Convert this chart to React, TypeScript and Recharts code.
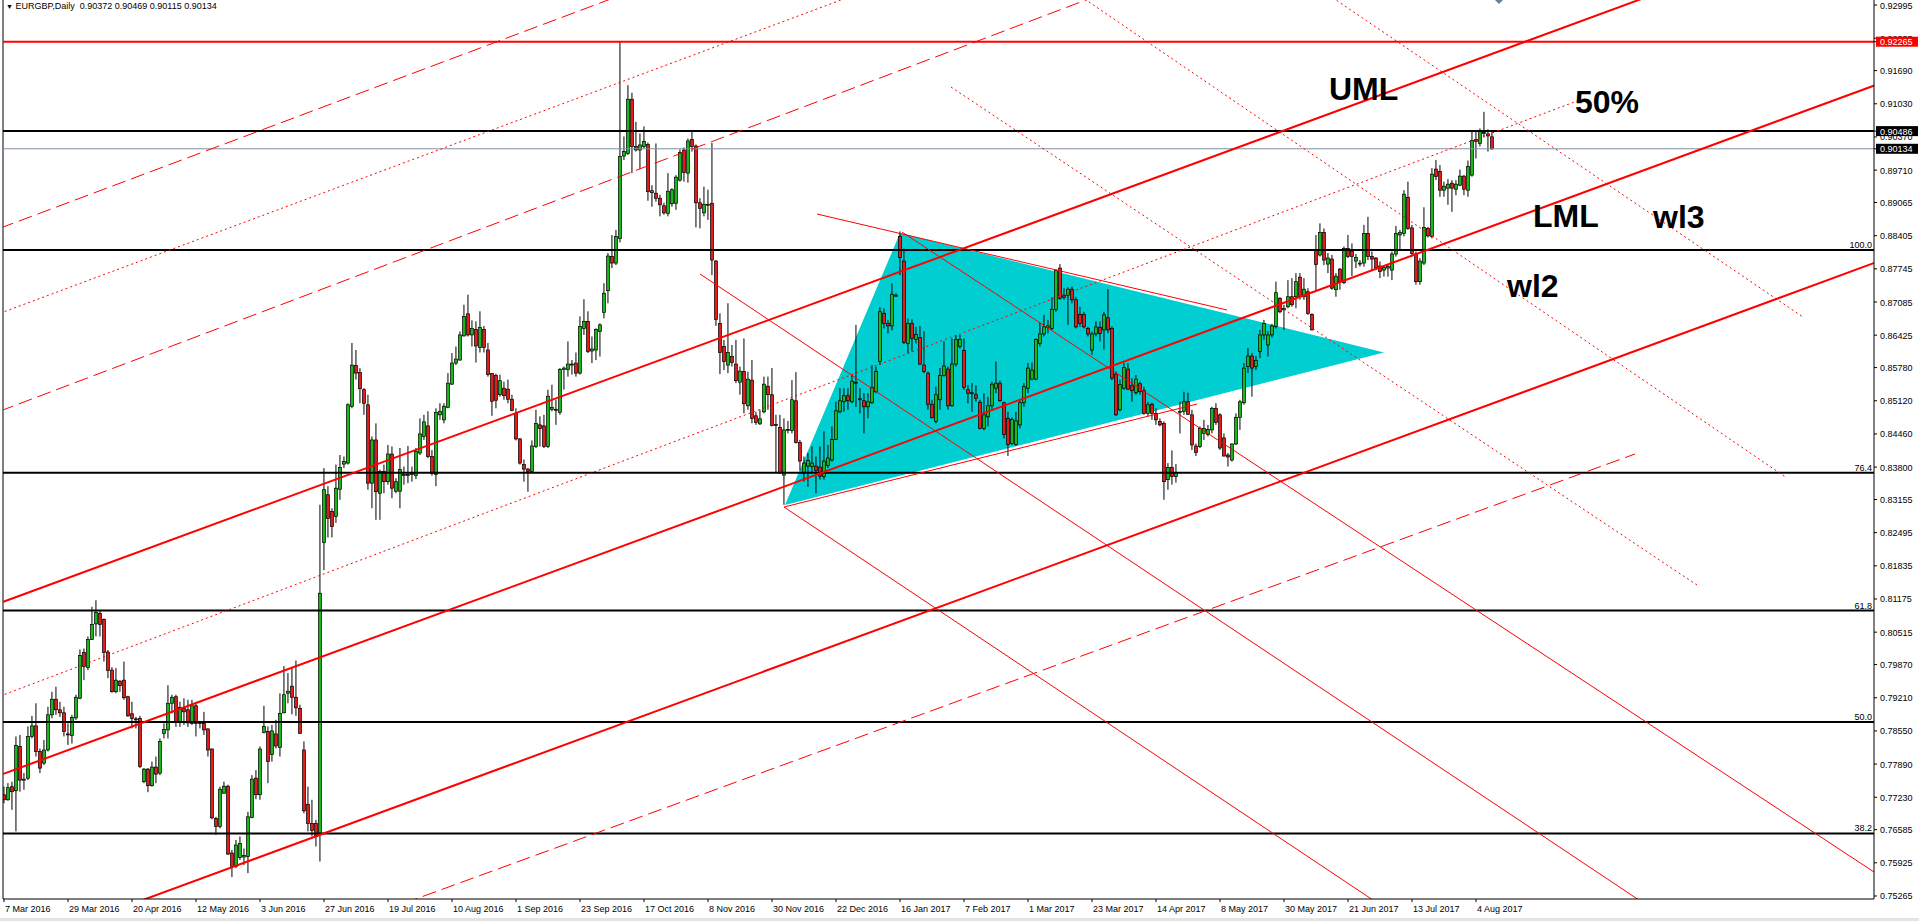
import React from 'react'
import { ComposedChart, Bar, Area, XAxis, YAxis, ReferenceLine, ReferenceDot } from 'recharts'

// EURGBP daily candles, [open, high, low, close]
const spring2016 = [
  [0.7728, 0.7744, 0.7711, 0.7718], [0.7718, 0.7751, 0.7716, 0.7742], [0.7744, 0.7754, 0.7698, 0.7734], [0.7736, 0.7844, 0.7655, 0.7826],
  [0.7824, 0.7847, 0.7734, 0.7757], [0.7757, 0.7771, 0.7738, 0.7759], [0.7761, 0.7864, 0.7757, 0.7844], [0.7844, 0.7885, 0.7840, 0.7865],
  [0.7865, 0.7910, 0.7804, 0.7814], [0.7814, 0.7820, 0.7771, 0.7781], [0.7791, 0.7837, 0.7787, 0.7817], [0.7817, 0.7903, 0.7814, 0.7887],
  [0.7887, 0.7933, 0.7880, 0.7918], [0.7918, 0.7943, 0.7887, 0.7897], [0.7897, 0.7913, 0.7883, 0.7891], [0.7891, 0.7903, 0.7844, 0.7854],
  [0.7849, 0.7870, 0.7827, 0.7848], [0.7846, 0.7887, 0.7830, 0.7882], [0.7881, 0.7927, 0.7877, 0.7922], [0.7920, 0.8017, 0.7918, 0.8005],
  [0.8011, 0.8019, 0.7956, 0.7983], [0.7981, 0.8043, 0.7976, 0.8037], [0.8037, 0.8102, 0.8036, 0.8067], [0.8068, 0.8115, 0.8043, 0.8091],
  [0.8089, 0.8096, 0.8043, 0.8067], [0.8077, 0.8079, 0.7993, 0.8011], [0.8012, 0.8016, 0.7960, 0.7975], [0.7976, 0.7982, 0.7931, 0.7933],
  [0.7933, 0.7980, 0.7930, 0.7956], [0.7954, 0.7956, 0.7933, 0.7945], [0.7956, 0.7993, 0.7917, 0.7921], [0.7923, 0.7925, 0.7883, 0.7885],
  [0.7889, 0.7913, 0.7860, 0.7880], [0.7879, 0.7883, 0.7860, 0.7877], [0.7880, 0.7885, 0.7781, 0.7784], [0.7754, 0.7781, 0.7751, 0.7779],
  [0.7779, 0.7781, 0.7733, 0.7746], [0.7746, 0.7794, 0.7744, 0.7783], [0.7783, 0.7804, 0.7751, 0.7769], [0.7771, 0.7840, 0.7767, 0.7834],
  [0.7850, 0.7870, 0.7840, 0.7858], [0.7857, 0.7946, 0.7840, 0.7910], [0.7910, 0.7927, 0.7890, 0.7922], [0.7923, 0.7927, 0.7863, 0.7873],
  [0.7872, 0.7913, 0.7863, 0.7902], [0.7900, 0.7920, 0.7867, 0.7893], [0.7897, 0.7917, 0.7863, 0.7871], [0.7870, 0.7917, 0.7867, 0.7905],
  [0.7905, 0.7910, 0.7844, 0.7870], [0.7872, 0.7875, 0.7860, 0.7870], [0.7870, 0.7893, 0.7847, 0.7857], [0.7859, 0.7860, 0.7804, 0.7817],
  [0.7819, 0.7820, 0.7679, 0.7682], [0.7681, 0.7684, 0.7648, 0.7665], [0.7665, 0.7744, 0.7661, 0.7739], [0.7731, 0.7754, 0.7730, 0.7745],
  [0.7745, 0.7748, 0.7608, 0.7610], [0.7612, 0.7618, 0.7564, 0.7585], [0.7585, 0.7638, 0.7582, 0.7628], [0.7603, 0.7645, 0.7598, 0.7631],
  [0.7604, 0.7621, 0.7588, 0.7607], [0.7605, 0.7694, 0.7572, 0.7684], [0.7683, 0.7767, 0.7681, 0.7759], [0.7761, 0.7777, 0.7719, 0.7728],
  [0.7728, 0.7824, 0.7718, 0.7819], [0.7852, 0.7905, 0.7850, 0.7864], [0.7854, 0.7864, 0.7751, 0.7794], [0.7808, 0.7867, 0.7794, 0.7855],
  [0.7849, 0.7877, 0.7820, 0.7825], [0.7822, 0.7930, 0.7804, 0.7890], [0.7891, 0.7984, 0.7890, 0.7927], [0.7930, 0.7970, 0.7910, 0.7934],
  [0.7944, 0.7980, 0.7888, 0.7922], [0.7922, 0.7995, 0.7885, 0.7901], [0.7900, 0.7907, 0.7849, 0.7850], [0.7817, 0.7834, 0.7691, 0.7696],
  [0.7709, 0.7744, 0.7655, 0.7671], [0.7671, 0.7718, 0.7645, 0.7657], [0.7671, 0.7678, 0.7625, 0.7645], [0.7651, 0.8305, 0.7595, 0.8129],
]

const summer2016 = [
  [0.8230, 0.8378, 0.8175, 0.8335], [0.8325, 0.8342, 0.8240, 0.8278], [0.8292, 0.8298, 0.8240, 0.8262], [0.8282, 0.8385, 0.8269, 0.8338],
  [0.8336, 0.8404, 0.8315, 0.8379], [0.8386, 0.8401, 0.8378, 0.8391], [0.8388, 0.8507, 0.8385, 0.8504], [0.8501, 0.8627, 0.8497, 0.8583],
  [0.8582, 0.8613, 0.8554, 0.8567], [0.8568, 0.8577, 0.8507, 0.8536], [0.8534, 0.8537, 0.8484, 0.8507], [0.8504, 0.8524, 0.8335, 0.8348],
  [0.8348, 0.8441, 0.8298, 0.8434], [0.8434, 0.8467, 0.8275, 0.8331], [0.8328, 0.8375, 0.8275, 0.8371], [0.8371, 0.8385, 0.8328, 0.8351],
  [0.8351, 0.8424, 0.8345, 0.8406], [0.8406, 0.8421, 0.8318, 0.8338], [0.8332, 0.8358, 0.8328, 0.8351], [0.8332, 0.8418, 0.8298, 0.8375],
  [0.8363, 0.8381, 0.8345, 0.8365], [0.8363, 0.8422, 0.8348, 0.8365], [0.8365, 0.8381, 0.8351, 0.8367], [0.8363, 0.8418, 0.8356, 0.8411],
  [0.8408, 0.8477, 0.8404, 0.8446], [0.8441, 0.8484, 0.8434, 0.8470], [0.8462, 0.8491, 0.8398, 0.8401], [0.8401, 0.8414, 0.8363, 0.8367],
  [0.8365, 0.8497, 0.8342, 0.8489], [0.8484, 0.8507, 0.8474, 0.8491], [0.8474, 0.8507, 0.8467, 0.8501], [0.8499, 0.8567, 0.8497, 0.8547],
  [0.8545, 0.8607, 0.8544, 0.8587], [0.8587, 0.8620, 0.8583, 0.8595], [0.8593, 0.8650, 0.8592, 0.8643], [0.8641, 0.8703, 0.8640, 0.8680],
  [0.8685, 0.8723, 0.8640, 0.8643], [0.8643, 0.8672, 0.8620, 0.8656], [0.8654, 0.8670, 0.8588, 0.8621], [0.8618, 0.8690, 0.8608, 0.8658],
  [0.8654, 0.8661, 0.8608, 0.8618], [0.8613, 0.8627, 0.8560, 0.8564], [0.8566, 0.8567, 0.8482, 0.8511], [0.8562, 0.8566, 0.8497, 0.8513],
  [0.8524, 0.8564, 0.8520, 0.8552], [0.8537, 0.8550, 0.8514, 0.8522], [0.8535, 0.8554, 0.8507, 0.8515], [0.8515, 0.8524, 0.8491, 0.8493],
  [0.8487, 0.8497, 0.8433, 0.8436], [0.8436, 0.8438, 0.8385, 0.8388], [0.8385, 0.8395, 0.8351, 0.8376], [0.8376, 0.8378, 0.8331, 0.8371],
  [0.8371, 0.8433, 0.8369, 0.8422], [0.8421, 0.8494, 0.8418, 0.8467], [0.8464, 0.8481, 0.8421, 0.8457], [0.8462, 0.8484, 0.8418, 0.8421],
  [0.8421, 0.8534, 0.8418, 0.8521], [0.8495, 0.8544, 0.8491, 0.8499], [0.8495, 0.8514, 0.8464, 0.8493], [0.8489, 0.8577, 0.8484, 0.8574],
  [0.8574, 0.8580, 0.8534, 0.8577], [0.8574, 0.8630, 0.8560, 0.8585], [0.8583, 0.8593, 0.8564, 0.8585], [0.8587, 0.8608, 0.8560, 0.8567],
  [0.8567, 0.8680, 0.8564, 0.8660], [0.8656, 0.8714, 0.8643, 0.8670], [0.8670, 0.8690, 0.8607, 0.8610], [0.8611, 0.8640, 0.8587, 0.8615],
  [0.8613, 0.8656, 0.8593, 0.8654], [0.8650, 0.8666, 0.8600, 0.8663], [0.8688, 0.8746, 0.8676, 0.8726], [0.8731, 0.8806, 0.8706, 0.8800],
  [0.8799, 0.8842, 0.8776, 0.8786], [0.8786, 0.8852, 0.8782, 0.8839], [0.8835, 0.92265, 0.8827, 0.8998], [0.8999, 0.9038, 0.8991, 0.9008],
  [0.9004, 0.9140, 0.9001, 0.9112], [0.9112, 0.9125, 0.8965, 0.9018], [0.9018, 0.9067, 0.9008, 0.9011], [0.9011, 0.9044, 0.8973, 0.9021],
  [0.9018, 0.9058, 0.9014, 0.9028], [0.9022, 0.9026, 0.8910, 0.8928], [0.8926, 0.8941, 0.8898, 0.8930], [0.8925, 0.9024, 0.8908, 0.8915],
  [0.8915, 0.8922, 0.8879, 0.8902], [0.8900, 0.8906, 0.8882, 0.8886], [0.8885, 0.8965, 0.8879, 0.8929], [0.8904, 0.8935, 0.8898, 0.8932],
  [0.8905, 0.8961, 0.8892, 0.8957], [0.8951, 0.9012, 0.8948, 0.9006], [0.9011, 0.9016, 0.8948, 0.8966], [0.8965, 0.9034, 0.8946, 0.9029],
  [0.9032, 0.9048, 0.9008, 0.9018], [0.9019, 0.9022, 0.8857, 0.8906], [0.8906, 0.8915, 0.8855, 0.8895], [0.8886, 0.8938, 0.8879, 0.8903],
  [0.8901, 0.8932, 0.8872, 0.8903],
]

const winter2016 = [
  [0.8905, 0.9025, 0.8762, 0.8792], [0.8790, 0.8792, 0.8661, 0.8674], [0.8666, 0.8686, 0.8565, 0.8608], [0.8620, 0.8633, 0.8573, 0.8590],
  [0.8583, 0.8706, 0.8567, 0.8608], [0.8600, 0.8623, 0.8580, 0.8588], [0.8585, 0.8633, 0.8547, 0.8552], [0.8549, 0.8580, 0.8524, 0.8571],
  [0.8570, 0.8636, 0.8487, 0.8506], [0.8502, 0.8570, 0.8494, 0.8555], [0.8553, 0.8593, 0.8467, 0.8477], [0.8482, 0.8490, 0.8464, 0.8469],
  [0.8466, 0.8494, 0.8464, 0.8476], [0.8490, 0.8560, 0.8487, 0.8545], [0.8541, 0.8560, 0.8494, 0.8524], [0.8524, 0.8577, 0.8461, 0.8463],
  [0.8465, 0.8484, 0.8368, 0.8463], [0.8459, 0.8484, 0.8366, 0.8369], [0.8364, 0.8477, 0.8305, 0.8454], [0.8453, 0.8472, 0.8447, 0.8455],
  [0.8453, 0.8553, 0.8447, 0.8514], [0.8512, 0.8569, 0.8427, 0.8429], [0.8429, 0.8434, 0.8373, 0.8392], [0.8368, 0.8401, 0.8351, 0.8388],
  [0.8382, 0.8408, 0.8341, 0.8393], [0.8381, 0.8421, 0.8368, 0.8388], [0.8382, 0.8401, 0.8328, 0.8373], [0.8380, 0.8421, 0.8355, 0.8362],
  [0.8361, 0.8451, 0.8355, 0.8392], [0.8383, 0.8424, 0.8378, 0.8398], [0.8394, 0.8461, 0.8391, 0.8435], [0.8435, 0.8510, 0.8434, 0.8492],
  [0.8490, 0.8537, 0.8487, 0.8512], [0.8510, 0.8537, 0.8490, 0.8522], [0.8522, 0.8537, 0.8494, 0.8512], [0.8510, 0.8563, 0.8507, 0.8551],
  [0.8547, 0.8663, 0.8500, 0.8549], [0.8514, 0.8537, 0.8487, 0.8516], [0.8512, 0.8527, 0.8447, 0.8500], [0.8500, 0.8527, 0.8477, 0.8510],
  [0.8508, 0.8583, 0.8506, 0.8539], [0.8530, 0.8580, 0.8527, 0.8570], [0.8590, 0.8698, 0.8583, 0.8689], [0.8686, 0.8696, 0.8656, 0.8666],
  [0.8666, 0.8673, 0.8646, 0.8661], [0.8661, 0.8746, 0.8652, 0.8724], [0.8720, 0.8726, 0.8719, 0.8722], [0.8839, 0.8849, 0.8762, 0.8797],
  [0.8790, 0.8815, 0.8625, 0.8628], [0.8626, 0.8676, 0.8606, 0.8666], [0.8666, 0.8674, 0.8610, 0.8636], [0.8634, 0.8659, 0.8626, 0.8644],
  [0.8638, 0.8661, 0.8583, 0.8585], [0.8583, 0.8650, 0.8567, 0.8570], [0.8567, 0.8570, 0.8494, 0.8505], [0.8505, 0.8514, 0.8477, 0.8478],
  [0.8471, 0.8540, 0.8467, 0.8524], [0.8514, 0.8577, 0.8494, 0.8562], [0.8562, 0.8630, 0.8560, 0.8581], [0.8575, 0.8580, 0.8494, 0.8502],
  [0.8502, 0.8636, 0.8500, 0.8585], [0.8585, 0.8643, 0.8580, 0.8634], [0.8620, 0.8643, 0.8616, 0.8634], [0.8612, 0.8636, 0.8534, 0.8539],
  [0.8534, 0.8543, 0.8507, 0.8527], [0.8527, 0.8547, 0.8490, 0.8528], [0.8524, 0.8543, 0.8510, 0.8517], [0.8509, 0.8514, 0.8455, 0.8457],
  [0.8457, 0.8527, 0.8453, 0.8484], [0.8480, 0.8520, 0.8461, 0.8502], [0.8502, 0.8550, 0.8494, 0.8545], [0.8537, 0.8590, 0.8527, 0.8547],
  [0.8547, 0.8552, 0.8510, 0.8512], [0.8508, 0.8510, 0.8437, 0.8445], [0.8477, 0.8490, 0.8402, 0.8425], [0.8427, 0.8479, 0.8424, 0.8475],
  [0.8425, 0.8490, 0.8422, 0.8472], [0.8464, 0.8514, 0.8457, 0.8508], [0.8508, 0.8547, 0.8500, 0.8540], [0.8537, 0.8587, 0.8527, 0.8577],
  [0.8555, 0.8588, 0.8553, 0.8573], [0.8555, 0.8636, 0.8553, 0.8634], [0.8626, 0.8667, 0.8620, 0.8645], [0.8645, 0.8683, 0.8640, 0.8659],
  [0.8658, 0.8673, 0.8646, 0.8661], [0.8656, 0.8718, 0.8653, 0.8694], [0.8694, 0.8774, 0.8689, 0.8771], [0.8776, 0.8784, 0.8713, 0.8716],
  [0.8722, 0.8736, 0.8713, 0.8718], [0.8722, 0.8738, 0.8663, 0.8734], [0.8734, 0.8739, 0.8706, 0.8713], [0.8713, 0.8719, 0.8656, 0.8659],
  [0.8684, 0.8699, 0.8659, 0.8666], [0.8684, 0.8689, 0.8656, 0.8659], [0.8656, 0.8659, 0.8640, 0.8645], [0.8613, 0.8650, 0.8603, 0.8645],
]

const year2017 = [
  [0.8645, 0.8670, 0.8640, 0.8659], [0.8658, 0.8670, 0.8630, 0.8646], [0.8653, 0.8689, 0.8614, 0.8683], [0.8677, 0.8734, 0.8646, 0.8653],
  [0.8656, 0.8660, 0.8553, 0.8557], [0.8565, 0.8570, 0.8482, 0.8484], [0.8494, 0.8554, 0.8491, 0.8544], [0.8537, 0.8587, 0.8534, 0.8578],
  [0.8575, 0.8587, 0.8534, 0.8535], [0.8542, 0.8557, 0.8510, 0.8532], [0.8528, 0.8563, 0.8524, 0.8555], [0.8546, 0.8550, 0.8524, 0.8530],
  [0.8532, 0.8540, 0.8484, 0.8487], [0.8487, 0.8510, 0.8481, 0.8504], [0.8505, 0.8508, 0.8474, 0.8487], [0.8487, 0.8497, 0.8464, 0.8474],
  [0.8471, 0.8477, 0.8461, 0.8464], [0.8467, 0.8471, 0.8315, 0.8351], [0.8355, 0.8388, 0.8335, 0.8379], [0.8379, 0.8413, 0.8345, 0.8361],
  [0.8361, 0.8386, 0.8349, 0.8369], [0.8489, 0.8510, 0.8447, 0.8491], [0.8491, 0.8530, 0.8484, 0.8510], [0.8510, 0.8528, 0.8484, 0.8485],
  [0.8484, 0.8494, 0.8414, 0.8424], [0.8422, 0.8427, 0.8402, 0.8409], [0.8421, 0.8461, 0.8418, 0.8457], [0.8447, 0.8474, 0.8434, 0.8457],
  [0.8445, 0.8464, 0.8441, 0.8455], [0.8454, 0.8500, 0.8447, 0.8497], [0.8497, 0.8507, 0.8464, 0.8469], [0.8484, 0.8487, 0.8414, 0.8418],
  [0.8438, 0.8447, 0.8401, 0.8402], [0.8404, 0.8408, 0.8381, 0.8400], [0.8394, 0.8427, 0.8391, 0.8426], [0.8426, 0.8487, 0.8424, 0.8479],
  [0.8479, 0.8514, 0.8454, 0.8510], [0.8508, 0.8587, 0.8504, 0.8577], [0.8580, 0.8617, 0.8567, 0.8601], [0.8601, 0.8607, 0.8520, 0.8577],
  [0.8580, 0.8601, 0.8573, 0.8592], [0.8610, 0.8653, 0.8597, 0.8643], [0.8643, 0.8673, 0.8633, 0.8666], [0.8623, 0.8650, 0.8600, 0.8643],
  [0.8643, 0.8665, 0.8638, 0.8661], [0.8660, 0.8749, 0.8656, 0.8727], [0.8716, 0.8718, 0.8686, 0.8689], [0.8693, 0.8703, 0.8653, 0.8696],
  [0.8699, 0.8752, 0.8696, 0.8719], [0.8719, 0.8756, 0.8699, 0.8703], [0.8719, 0.8766, 0.8696, 0.8749], [0.8758, 0.8766, 0.8713, 0.8719],
  [0.8719, 0.8756, 0.8713, 0.8734], [0.8729, 0.8736, 0.8683, 0.8686], [0.8684, 0.8686, 0.8652, 0.8653], [0.8812, 0.8842, 0.8732, 0.8783],
  [0.8802, 0.8865, 0.8799, 0.8847], [0.8847, 0.8855, 0.8782, 0.8792], [0.8784, 0.8806, 0.8766, 0.8796], [0.8794, 0.8802, 0.8733, 0.8736],
  [0.8733, 0.8766, 0.8719, 0.8760], [0.8774, 0.8776, 0.8733, 0.8749], [0.8747, 0.8819, 0.8744, 0.8815], [0.8815, 0.8842, 0.8796, 0.8799],
  [0.8810, 0.8825, 0.8760, 0.8799], [0.8790, 0.8804, 0.8776, 0.8797], [0.8784, 0.8792, 0.8779, 0.8786], [0.8786, 0.8862, 0.8779, 0.8845],
  [0.8845, 0.8878, 0.8792, 0.8799], [0.8799, 0.8809, 0.8772, 0.8794], [0.8796, 0.8798, 0.8772, 0.8776], [0.8780, 0.8789, 0.8756, 0.8769],
  [0.8772, 0.8782, 0.8759, 0.8777], [0.8776, 0.8782, 0.8759, 0.8779], [0.8772, 0.8809, 0.8752, 0.8804], [0.8804, 0.8860, 0.8799, 0.8845],
  [0.8842, 0.8852, 0.8813, 0.8847], [0.8845, 0.8931, 0.8839, 0.8923], [0.8917, 0.8948, 0.8852, 0.8855], [0.8856, 0.8862, 0.8799, 0.8805],
  [0.8804, 0.8809, 0.8743, 0.8749], [0.8749, 0.8796, 0.8743, 0.8790], [0.8786, 0.8897, 0.8782, 0.8857], [0.8855, 0.8858, 0.8837, 0.8840],
  [0.8839, 0.8975, 0.8835, 0.8963], [0.8973, 0.8991, 0.8951, 0.8958], [0.8968, 0.8981, 0.8918, 0.8931], [0.8931, 0.8948, 0.8918, 0.8939],
  [0.8935, 0.8953, 0.8902, 0.8943], [0.8945, 0.8951, 0.8888, 0.8935], [0.8933, 0.8951, 0.8921, 0.8943], [0.8941, 0.8972, 0.8939, 0.8959],
  [0.8959, 0.8961, 0.8921, 0.8933], [0.8931, 0.8990, 0.8918, 0.8978], [0.8961, 0.9047, 0.8958, 0.9030], [0.9032, 0.9049, 0.8994, 0.9028],
  [0.9024, 0.9054, 0.9018, 0.9049], [0.9044, 0.9087, 0.9036, 0.9046], [0.9043, 0.9052, 0.9008, 0.9039], [0.90372, 0.90469, 0.90115, 0.90134],
]

// date labels every 16 bars
const dateTickBars = [0, 16, 32, 48, 64, 80, 96, 112, 128, 144, 160, 176, 192, 208, 224, 240, 256, 272, 288, 304, 320, 336, 352, 368]
const dateTickLabels = [
  '7 Mar 2016', '29 Mar 2016', '20 Apr 2016', '12 May 2016', '3 Jun 2016', '27 Jun 2016', '19 Jul 2016', '10 Aug 2016',
  '1 Sep 2016', '23 Sep 2016', '17 Oct 2016', '8 Nov 2016', '30 Nov 2016', '22 Dec 2016', '16 Jan 2017', '7 Feb 2017',
  '1 Mar 2017', '23 Mar 2017', '14 Apr 2017', '8 May 2017', '30 May 2017', '21 Jun 2017', '13 Jul 2017', '4 Aug 2017',
]
const priceTicks = [
  0.92995, 0.92335, 0.9169, 0.9103, 0.9037, 0.8971, 0.89065, 0.88405, 0.87745, 0.87085, 0.86425, 0.8578, 0.8512, 0.8446,
  0.838, 0.83155, 0.82495, 0.81835, 0.81175, 0.80515, 0.7987, 0.7921, 0.7855, 0.7789, 0.7723, 0.76585, 0.75925, 0.75265,
]
const priceBoxes = [
  { price: 0.92265, color: '#ff0000' },
  { price: 0.90486, color: '#000000' },
  { price: 0.90134, color: '#000000' },
]
const fiboLevels = [
  { price: 0.8812, label: '100.0' },
  { price: 0.83687, label: '76.4' },
  { price: 0.80944, label: '61.8' },
  { price: 0.78727, label: '50.0' },
  { price: 0.7651, label: '38.2' },
]

// drawn objects, endpoints as [bar, price]
const thickLines = [
  [[-1, 0.81097], [420, 0.93428]],
  [[-1, 0.7767], [470, 0.91465]],
  [[-1, 0.74139], [470, 0.87934]],
]
const thinLines = [
  [[174, 0.87642], [408.75, 0.75184]],
  [[224.5, 0.88478], [467.5, 0.75742]],
  [[195, 0.83005], [342.25, 0.75184]],
  [[203.25, 0.88836], [305.75, 0.86926]],
  [[195, 0.83005], [298.25, 0.85055]],
]
const dashLines = [
  [[-1, 0.88554], [160, 0.93363]],
  [[-1, 0.84915], [280, 0.93381]],
  [[100, 0.7512], [407.75, 0.84061]],
]
const dotLines = [
  [[-1, 0.79242], [393.25, 0.91085]],
  [[-1, 0.86861], [215, 0.93265]],
  [[236.75, 0.91363], [423.25, 0.81453]],
  [[265, 0.93394], [445.75, 0.83582]],
  [[328, 0.93365], [449.75, 0.86786]],
]
const triangle = { a: [195.25, 0.83045], b: [224, 0.88458], c: [345, 0.8608] }
const chartNotes = [
  { text: 'UML', bar: 331.25, price: 0.91105 },
  { text: '50%', bar: 392.75, price: 0.90846 },
  { text: 'LML', bar: 382.25, price: 0.88577 },
  { text: 'wl3', bar: 412.25, price: 0.88557 },
  { text: 'wl2', bar: 375.75, price: 0.87184 },
]

const font = 'Liberation Sans, Arial, sans-serif'
const upColor = '#19b819'
const downColor = '#e21b1b'

const candles = [...spring2016, ...summer2016, ...winter2016, ...year2017].map(([o, h, l, c], i) => ({
  i, o, h, l, c, range: [l, h],
}))

// the triangle as a ranged area: lower edge a->c, upper edge a->b->c
const lowAtB = triangle.a[1] + ((triangle.c[1] - triangle.a[1]) * (triangle.b[0] - triangle.a[0])) / (triangle.c[0] - triangle.a[0])
const triangleData = [
  { i: triangle.a[0], band: [triangle.a[1], triangle.a[1]] },
  { i: triangle.b[0], band: [lowAtB, triangle.b[1]] },
  { i: triangle.c[0], band: [triangle.c[1], triangle.c[1]] },
]

function Candle(props: any) {
  const { x, y, width, height, payload } = props
  if (x == null || y == null) return null
  const { o, h, l, c } = payload
  const top = Math.min(y, y + height)
  const span = Math.abs(height)
  const cx = x + width / 2
  const at = (v: number) => (h > l ? top + ((h - v) / (h - l)) * span : top)
  const bodyTop = at(Math.max(o, c))
  const bodyBot = at(Math.min(o, c))
  if (Math.abs(o - c) < 0.00004) {
    return (
      <g>
        <line x1={cx} x2={cx} y1={top} y2={top + span} stroke="#000" strokeWidth={1} />
        <line x1={cx - 1.5} x2={cx + 1.5} y1={bodyTop} y2={bodyTop} stroke="#000" strokeWidth={1} />
      </g>
    )
  }
  return (
    <g>
      <line x1={cx} x2={cx} y1={top} y2={top + span} stroke="#000" strokeWidth={1} />
      <rect x={cx - 1.5} y={bodyTop} width={3} height={Math.max(bodyBot - bodyTop, 1)}
        fill={c >= o ? upColor : downColor} stroke="#000" strokeWidth={0.7} />
    </g>
  )
}

function DateTick({ x, y, payload }: any) {
  const k = dateTickBars.indexOf(payload.value)
  return (
    <text x={x + 1} y={y + 8} fontSize={9} fontFamily={font} fill="#000" textAnchor="start">
      {dateTickLabels[k]}
    </text>
  )
}

function PriceTick({ x, y, payload }: any) {
  const v = payload.value as number
  const box = priceBoxes.find(b => b.price === v)
  if (box) {
    return (
      <g>
        <rect x={x - 4} y={y - 5} width={42} height={10} fill={box.color} />
        <text x={x} y={y + 3.5} fontSize={9} fontFamily={font} fill="#fff">{v.toFixed(5)}</text>
      </g>
    )
  }
  return <text x={x} y={y + 3.5} fontSize={9} fontFamily={font} fill="#000">{v.toFixed(5)}</text>
}

function seg(line: number[][]) {
  return [{ x: line[0][0], y: line[0][1] }, { x: line[1][0], y: line[1][1] }]
}

export default function App() {
  return (
    <div style={{ position: 'absolute', left: 0, top: 0, width: 1919, height: 921, background: '#fff', overflow: 'hidden' }}>
      <ComposedChart width={1919} height={921} data={candles} margin={{ top: 0, right: 0, bottom: 0, left: 3 }}>
        <XAxis
          type="number"
          dataKey="i"
          domain={[-0.25, 467.5]}
          allowDataOverflow
          ticks={dateTickBars}
          interval={0}
          height={22}
          tickSize={3}
          tickMargin={2}
          tick={<DateTick />}
          axisLine={{ stroke: '#000' }}
          tickLine={{ stroke: '#000' }}
        />
        <YAxis
          orientation="right"
          type="number"
          domain={[0.75205, 0.93095]}
          allowDataOverflow
          ticks={[...priceTicks, ...priceBoxes.map(b => b.price)]}
          interval={0}
          width={45}
          tickSize={3}
          tickMargin={3}
          tick={<PriceTick />}
          axisLine={{ stroke: '#000' }}
          tickLine={{ stroke: '#000' }}
        />
        <Area
          data={triangleData}
          dataKey="band"
          type="linear"
          stroke="none"
          fill="#00ced1"
          fillOpacity={1}
          dot={false}
          activeDot={false}
          isAnimationActive={false}
        />
        <Bar dataKey="range" barSize={3} shape={(p: any) => <Candle {...p} />} isAnimationActive={false} />

        <ReferenceLine x={-0.25} stroke="#000" strokeWidth={1} />
        {fiboLevels.map(f => (
          <ReferenceLine key={f.label} y={f.price} stroke="#000" strokeWidth={2}
            label={{ value: f.label, position: 'insideBottomRight', offset: 2, fontSize: 9, fill: '#000', fontFamily: font }} />
        ))}
        <ReferenceLine y={0.90486} stroke="#000" strokeWidth={2} />
        <ReferenceLine y={0.90134} stroke="#8090a0" strokeWidth={1} />
        <ReferenceLine y={0.92265} stroke="#ff0000" strokeWidth={2} />

        {thinLines.map((l, k) => (
          <ReferenceLine key={'t' + k} segment={seg(l)} ifOverflow="hidden" stroke="#ff0000" strokeWidth={1} />
        ))}
        {dashLines.map((l, k) => (
          <ReferenceLine key={'d' + k} segment={seg(l)} ifOverflow="hidden" stroke="#ff0000" strokeWidth={1} strokeDasharray="14 6" />
        ))}
        {dotLines.map((l, k) => (
          <ReferenceLine key={'o' + k} segment={seg(l)} ifOverflow="hidden" stroke="#ff0000" strokeWidth={1} strokeDasharray="2 3" />
        ))}
        {thickLines.map((l, k) => (
          <ReferenceLine key={'k' + k} segment={seg(l)} ifOverflow="hidden" stroke="#ff0000" strokeWidth={2} />
        ))}

        {chartNotes.map(n => (
          <ReferenceDot key={n.text} x={n.bar} y={n.price} r={0} fill="none" stroke="none" ifOverflow="visible"
            label={(p: any) => (
              <text x={p.viewBox.x} y={p.viewBox.y} fontSize={32} fontWeight="bold" fontFamily={font} fill="#000">
                {n.text}
              </text>
            )}
          />
        ))}
      </ComposedChart>
      <div style={{ position: 'absolute', left: 6, top: 1, fontFamily: font, fontSize: 9, color: '#000', whiteSpace: 'pre' }}>
        <span style={{ fontSize: 7 }}>▼</span> EURGBP,Daily  0.90372 0.90469 0.90115 0.90134
      </div>
      {/* chart shift marker */}
      <svg style={{ position: 'absolute', left: 1495, top: 0 }} width={9} height={5}>
        <polygon points="0,0 8,0 4,4" fill="#6b7f95" />
      </svg>
      <div style={{ position: 'absolute', left: 0, top: 918, width: 1919, height: 3, background: '#e4e4e4' }} />
    </div>
  )
}
